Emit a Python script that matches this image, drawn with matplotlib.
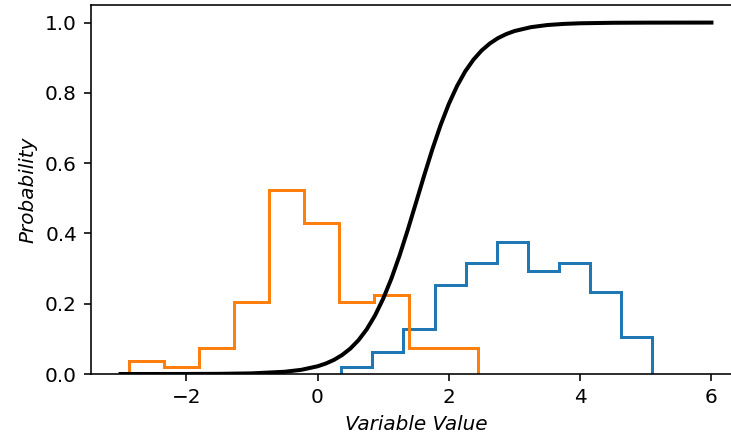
import numpy as np
import matplotlib
matplotlib.use("Agg")
import matplotlib.pyplot as plt

# histogram bin edges and density heights
blue_edges = [0.36, 0.834, 1.308, 1.782, 2.256, 2.73, 3.204, 3.678, 4.152, 4.626, 5.10]
blue_heights = [0.021, 0.063, 0.127, 0.252, 0.315, 0.377, 0.293, 0.315, 0.232, 0.105]

orange_edges = [-2.87, -2.338, -1.806, -1.274, -0.742, -0.21, 0.322, 0.854, 1.386, 1.918, 2.45]
orange_heights = [0.038, 0.019, 0.075, 0.205, 0.523, 0.431, 0.205, 0.224, 0.075, 0.075]

# black probability curve
curve_x = [-3.0, -2.5, -2.0, -1.5, -1.0, -0.5, -0.25, 0.0, 0.125, 0.25, 0.375, 0.5,
           0.625, 0.75, 0.875, 1.0, 1.125, 1.25, 1.375, 1.5, 1.625, 1.75, 1.875,
           2.0, 2.125, 2.25, 2.375, 2.5, 2.625, 2.75, 2.875, 3.0, 3.25, 3.5, 3.75,
           4.0, 4.5, 5.0, 6.0]
curve_y = [0.0, 0.00004, 0.00015, 0.0005, 0.0018, 0.0064, 0.0118, 0.0219, 0.0297,
           0.0401, 0.0541, 0.0724, 0.0964, 0.1273, 0.1663, 0.2142, 0.2714, 0.3374,
           0.4104, 0.4875, 0.5652, 0.640, 0.7084, 0.7685, 0.8194, 0.8612, 0.8945,
           0.9206, 0.9406, 0.9559, 0.9673, 0.9759, 0.9869, 0.9930, 0.9962, 0.9980,
           0.9994, 0.9998, 1.0]

fig = plt.figure(figsize=(731 / 144, 434 / 144), dpi=144)
ax = fig.add_axes([91 / 731, 60 / 434, 650 / 731, 369 / 434])

ax.stairs(blue_heights, blue_edges, color="C0", linewidth=1.5)
ax.stairs(orange_heights, orange_edges, color="C1", linewidth=1.5)
ax.plot(curve_x, curve_y, color="black", linewidth=2)

ax.set_xlim(-3.45, 6.45)
ax.set_ylim(0, 1.05)
ax.set_xlabel("Variable Value", style="italic")
ax.set_ylabel("Probability", style="italic")

fig.savefig("out.png", dpi=144)
